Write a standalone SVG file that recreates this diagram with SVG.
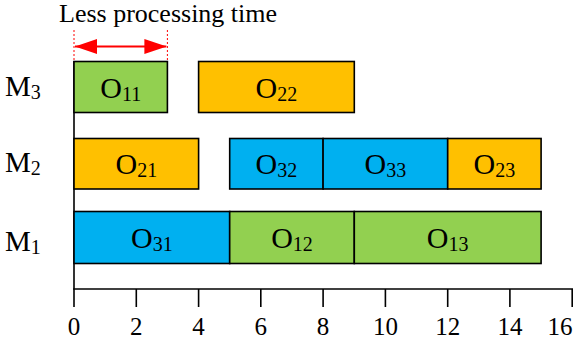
<svg xmlns="http://www.w3.org/2000/svg" width="581" height="352" viewBox="0 0 581 352">
<style>
text{font-family:"Liberation Serif","Times New Roman",serif;fill:#000}
.lbl{font-size:30px;text-anchor:middle}
.sub{font-size:20px}
.m{font-size:29px}
.msub{font-size:20px}
.tick{font-size:25px;text-anchor:middle}
.bx{stroke:#000;stroke-width:1.6}
.g{fill:#92D050}.o{fill:#FFC000}.b{fill:#00B0F0}
.ax{stroke:#000;stroke-width:1.6;fill:none}
</style>
<defs>
<marker id="ah" viewBox="0 0 22 15" refX="22" refY="7.5" markerWidth="22" markerHeight="15" markerUnits="userSpaceOnUse" orient="auto-start-reverse">
<path d="M0,0 L22,7.5 L0,15 Z" fill="#FF0000"/>
</marker>
</defs>
<g id="title">
<text x="59" y="22" style="font-size:26px">Less processing time</text>
</g>
<g id="annotation">
<line x1="74" y1="30" x2="74" y2="61" stroke="#FF0000" stroke-width="1" stroke-dasharray="2,2"/>
<line x1="167.4" y1="30" x2="167.4" y2="61" stroke="#FF0000" stroke-width="1" stroke-dasharray="2,2"/>
<line x1="75" y1="46.5" x2="166.4" y2="46.5" stroke="#FF0000" stroke-width="2" marker-start="url(#ah)" marker-end="url(#ah)"/>
</g>
<g id="axes">
<line class="ax" x1="74" y1="61" x2="74" y2="307"/>
<line class="ax" x1="73.2" y1="289" x2="573" y2="289"/>
<path class="ax" d="M136.3,289V307M198.6,289V307M260.8,289V307M323.1,289V307M385.4,289V307M447.7,289V307M509.9,289V307M572.2,289V307"/>
<text class="tick" x="74" y="335">0</text>
<text class="tick" x="136.3" y="335">2</text>
<text class="tick" x="198.6" y="335">4</text>
<text class="tick" x="260.8" y="335">6</text>
<text class="tick" x="323.1" y="335">8</text>
<text class="tick" x="385.4" y="335">10</text>
<text class="tick" x="447.7" y="335">12</text>
<text class="tick" x="509.9" y="335">14</text>
<text class="tick" x="560" y="335">16</text>
</g>
<g id="machines">
<text x="5" y="96" class="m">M<tspan class="msub" dy="3">3</tspan></text>
<text x="5" y="172" class="m">M<tspan class="msub" dy="3">2</tspan></text>
<text x="5" y="251" class="m">M<tspan class="msub" dy="3">1</tspan></text>
</g>
<g id="O11"><rect class="bx g" x="74" y="61.5" width="93.4" height="51"/><text class="lbl" x="120.7" y="97.5">O<tspan class="sub" dy="3">11</tspan></text></g>
<g id="O22"><rect class="bx o" x="198.6" y="61.5" width="155.7" height="51"/><text class="lbl" x="276.4" y="97.5">O<tspan class="sub" dy="3">22</tspan></text></g>
<g id="O21"><rect class="bx o" x="74" y="138.5" width="124.6" height="50.5"/><text class="lbl" x="136.3" y="174">O<tspan class="sub" dy="3">21</tspan></text></g>
<g id="O32"><rect class="bx b" x="229.7" y="138.5" width="93.4" height="50.5"/><text class="lbl" x="276.4" y="174">O<tspan class="sub" dy="3">32</tspan></text></g>
<g id="O33"><rect class="bx b" x="323.1" y="138.5" width="124.6" height="50.5"/><text class="lbl" x="385.4" y="174">O<tspan class="sub" dy="3">33</tspan></text></g>
<g id="O23"><rect class="bx o" x="447.7" y="138.5" width="93.4" height="50.5"/><text class="lbl" x="494.4" y="174">O<tspan class="sub" dy="3">23</tspan></text></g>
<g id="O31"><rect class="bx b" x="74" y="211.5" width="155.7" height="52"/><text class="lbl" x="151.9" y="248">O<tspan class="sub" dy="3">31</tspan></text></g>
<g id="O12"><rect class="bx g" x="229.7" y="211.5" width="124.6" height="52"/><text class="lbl" x="292" y="248">O<tspan class="sub" dy="3">12</tspan></text></g>
<g id="O13"><rect class="bx g" x="354.3" y="211.5" width="186.8" height="52"/><text class="lbl" x="447.7" y="248">O<tspan class="sub" dy="3">13</tspan></text></g>
</svg>
